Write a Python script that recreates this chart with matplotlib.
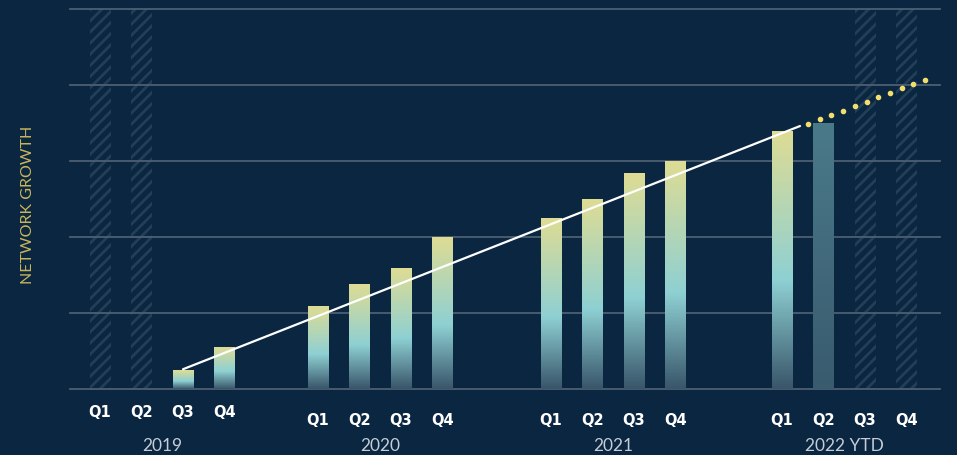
import matplotlib.pyplot as plt
import numpy as np
from matplotlib.colors import LinearSegmentedColormap

# données (unités = pas de grille)
years = ["2019", "2020", "2021", "2022 YTD"]
quarters = ["Q1", "Q2", "Q3", "Q4"]
growth = [
    [None, None, 0.24, 0.54],
    [1.08, 1.37, 1.58, 2.00],
    [2.24, 2.50, 2.83, 3.00],
    [3.39, 3.49, None, None],
]
trend = [0.26, 3.46]
projection = [3.49, 4.07]

bg = "#0b2640"
grid_c = "#4d5f72"
grad = LinearSegmentedColormap.from_list(
    "g", [(0, "#39566a"), (0.42, "#8ed0d3"), (1, "#dedc94")])
grad_q2 = LinearSegmentedColormap.from_list("g2", ["#395b6e", "#4a7a8a"])

# position des groupes (en pixels)
group_start = [100, 318, 551, 782]
step = 41.5
width = 21

plt.rcParams['hatch.linewidth'] = 2.0

fig = plt.figure(figsize=(9.57, 4.56), dpi=100, facecolor=bg)
ax = fig.add_axes([70 / 957, 66 / 456, 870 / 957, 380 / 456])
ax.set_facecolor(bg)

for v in range(6):
    ax.axhline(v, color=grid_c, lw=1.3, zorder=1, clip_on=False)

for g, year in enumerate(years):
    for q, val in enumerate(growth[g]):
        x = group_start[g] + q * step
        if val is None:
            # créneau vide hachuré
            ax.bar(x, 5, width=width, bottom=0, color="none", hatch="///", edgecolor="#223f58",
                   lw=0, zorder=0.5)
            continue
        cmap = grad_q2 if (g == 3 and q == 1) else grad
        ax.imshow(np.linspace(0, 1, 200).reshape(-1, 1), cmap=cmap, origin="lower",
                  extent=[x - width / 2, x + width / 2, 0, val], aspect="auto", zorder=2)
    for q, lab in enumerate(quarters):
        x = group_start[g] + q * step
        ax.text(x, -0.3 if g == 0 else -0.4, lab, color="white", fontsize=10.5, fontweight="bold",
                ha="center", va="center")
    ax.text(group_start[g] + 1.5 * step, -0.74, year, color="#c5cdd6", fontsize=12.5,
            ha="center", va="center", family="Lato")

ax.set_xlim(70, 940)
ax.set_ylim(0, 5)

# ligne de tendance
x0 = group_start[0] + 2 * step
x1 = group_start[3] + 18
ax.plot([x0, x1], trend, color="white", lw=1.6, zorder=3, solid_capstyle="round")
xp = np.linspace(x1 + 8, 925, 11)
yp = np.interp(xp, [xp[0], xp[-1]], projection)
ax.plot(xp, yp, linestyle="none", marker="o", ms=3, color="#f2de6a", zorder=3)

for s in ax.spines.values():
    s.set_visible(False)
ax.set_xticks([])
ax.set_yticks([])

fig.text(28 / 957, 1 - 205 / 456, "NETWORK GROWTH", rotation=90, color="#c9b65c",
         fontsize=11.5, ha="center", va="center", family="Lato")

fig.savefig("out.png", dpi=100, facecolor=bg)
